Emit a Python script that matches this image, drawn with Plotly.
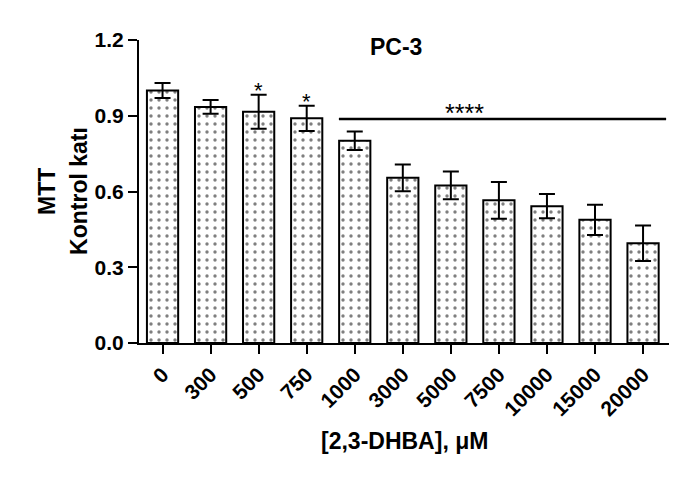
import plotly.graph_objects as go

categories = ["0", "300", "500", "750", "1000", "3000", "5000", "7500", "10000", "15000", "20000"]
means = [1.00, 0.935, 0.916, 0.890, 0.801, 0.654, 0.624, 0.565, 0.542, 0.488, 0.395]
errors = [0.03, 0.027, 0.067, 0.05, 0.037, 0.053, 0.055, 0.073, 0.048, 0.06, 0.07]
star_labels = ["", "", "*", "*", "", "", "", "", "", "", ""]
star_y = [None, None, 1.022, 0.982, None, None, None, None, None, None, None]
sig_start = 3.67
sig_end = 10.48
sig_y = 0.887
sig_label = "****"
sig_label_x = 6.28
sig_label_y = 0.933
y_ticks = [0.0, 0.3, 0.6, 0.9, 1.2]

font_family = "Arial, Liberation Sans, sans-serif"

fig = go.Figure()
fig.add_trace(go.Bar(
    x=list(range(len(categories))), y=means,
    width=0.65,
    marker=dict(color="white",
                line=dict(color="black", width=2),
                pattern=dict(shape=".", fgcolor="black", bgcolor="white", size=8, solidity=0.14)),
    error_y=dict(type="data", array=errors, visible=True, color="black", thickness=2, width=8),
    showlegend=False,
))

for i, (lab, yy) in enumerate(zip(star_labels, star_y)):
    if lab:
        fig.add_annotation(x=i, y=yy, text=lab, showarrow=False, yshift=-6,
                           font=dict(size=22, color="black", family=font_family), yanchor="middle")

fig.add_shape(type="line", x0=sig_start, x1=sig_end, y0=sig_y, y1=sig_y,
              xref="x", yref="y", line=dict(color="black", width=2.5))
fig.add_annotation(x=sig_label_x, y=sig_label_y, text=sig_label, showarrow=False, yshift=-6,
                   font=dict(size=25, color="black", family=font_family), yanchor="middle")

# titles as annotations (paper coords relative to plot area)
fig.add_annotation(x=0.485, y=0.977, xref="paper", yref="paper", text="<b>PC-3</b>", showarrow=False,
                   xanchor="center", yanchor="middle", font=dict(size=23, color="black", family=font_family))
fig.add_annotation(x=0.5, y=-0.323, xref="paper", yref="paper", text="<b>[2,3-DHBA], μM</b>", showarrow=False,
                   xanchor="center", yanchor="middle", font=dict(size=23, color="black", family=font_family))
fig.add_annotation(x=-0.1736, y=0.502, xref="paper", yref="paper", text="<b>MTT</b>", showarrow=False,
                   textangle=-90, xanchor="center", yanchor="middle",
                   font=dict(size=23, color="black", family=font_family))
fig.add_annotation(x=-0.1132, y=0.502, xref="paper", yref="paper", text="<b>Kontrol katı</b>", showarrow=False,
                   textangle=-90, xanchor="center", yanchor="middle",
                   font=dict(size=23, color="black", family=font_family))

fig.update_layout(
    width=681, height=471,
    margin=dict(l=131, r=20, t=32, b=136),
    paper_bgcolor="white", plot_bgcolor="white",
    font=dict(family=font_family, color="black"),
)
fig.update_xaxes(
    range=[-0.49, 10.54],
    tickmode="array", tickvals=list(range(len(categories))), ticktext=["<b>%s</b>" % c for c in categories],
    tickangle=-45, tickfont=dict(size=21, family=font_family, color="black"),
    showline=True, linecolor="black", linewidth=2,
    ticks="outside", ticklen=9, tickwidth=2, tickcolor="black",
    showgrid=False, zeroline=False,
)
fig.update_yaxes(
    range=[0, 1.2], tickvals=y_ticks, ticktext=["<b>%.1f</b>" % v for v in y_ticks],
    tickfont=dict(size=21, family=font_family, color="black"),
    showline=True, linecolor="black", linewidth=2,
    ticks="outside", ticklen=9, tickwidth=2, tickcolor="black",
    showgrid=False, zeroline=False,
)

fig.write_html("out.html")
